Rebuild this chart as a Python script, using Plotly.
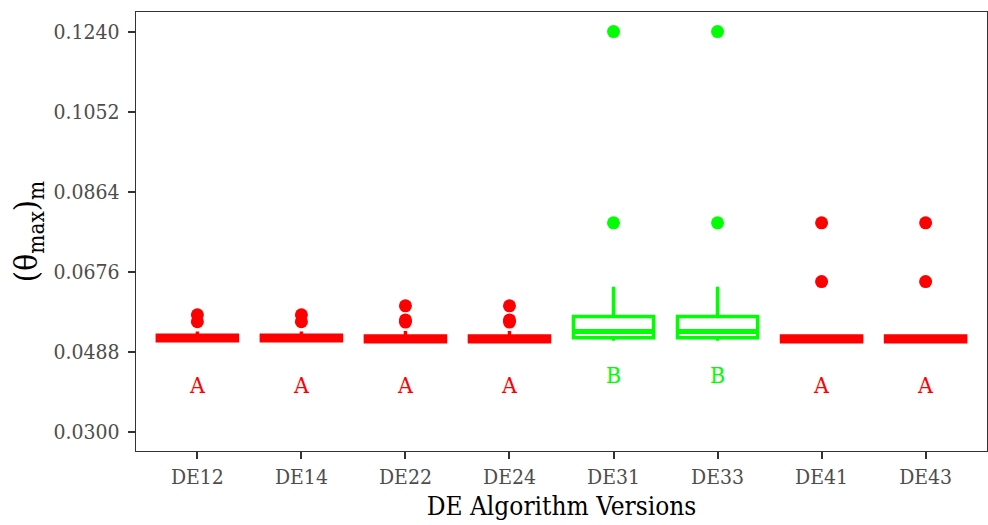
import plotly.graph_objects as go

# DE algorithm variants and their (theta_max)_m distribution summaries
versions = ["DE12", "DE14", "DE22", "DE24", "DE31", "DE33", "DE41", "DE43"]
q1 = [0.0514, 0.0514, 0.0512, 0.0512, 0.0521, 0.0521, 0.0512, 0.0512]
median = [0.0520, 0.0520, 0.0518, 0.0518, 0.0536, 0.0536, 0.0518, 0.0518]
q3 = [0.0527, 0.0527, 0.0525, 0.0525, 0.0571, 0.0571, 0.0525, 0.0525]
lower = [0.0514, 0.0514, 0.0512, 0.0512, 0.0514, 0.0514, 0.0512, 0.0512]
upper = [0.0536, 0.0536, 0.0537, 0.0537, 0.0641, 0.0641, 0.0526, 0.0526]
outliers = [
    [0.0575, 0.0559],
    [0.0575, 0.0559],
    [0.0596, 0.0563, 0.0558],
    [0.0596, 0.0563, 0.0558],
    [0.1240, 0.0791],
    [0.1240, 0.0791],
    [0.0791, 0.0653],
    [0.0791, 0.0653],
]
groups = ["A", "A", "A", "A", "B", "B", "A", "A"]
group_label_y = {"A": 0.0410, "B": 0.0434}
group_color = {"A": "#FF0000", "B": "#00FF00"}

y_ticks = [0.0300, 0.0488, 0.0676, 0.0864, 0.1052, 0.1240]

FONT = "DejaVu Serif Condensed, DejaVu Serif, serif"
BOX_W = 0.77

fig = go.Figure()

for i, name in enumerate(versions):
    col = group_color[groups[i]]
    fig.add_trace(go.Box(
        x=[i], q1=[q1[i]], median=[median[i]], q3=[q3[i]],
        lowerfence=[lower[i]], upperfence=[upper[i]],
        width=BOX_W, whiskerwidth=0,
        line=dict(color=col, width=3.5), fillcolor="rgba(255,255,255,0)",
        boxpoints=False, showlegend=False, hoverinfo="skip",
    ))
    # emphasised median bar
    fig.add_trace(go.Scatter(
        x=[i - BOX_W / 2, i + BOX_W / 2], y=[median[i], median[i]],
        mode="lines", line=dict(color=col, width=5),
        showlegend=False, hoverinfo="skip",
    ))
    fig.add_trace(go.Scatter(
        x=[i] * len(outliers[i]), y=outliers[i], mode="markers",
        marker=dict(color=col, size=13), showlegend=False, hoverinfo="skip",
    ))
    fig.add_annotation(
        x=i, y=group_label_y[groups[i]], text=groups[i], showarrow=False,
        font=dict(family=FONT, size=23, color=col),
        xanchor="center", yanchor="middle",
    )

axis_common = dict(
    showline=True, linecolor="#333333", linewidth=1.3, mirror=True,
    ticks="outside", ticklen=7, tickwidth=1.5, tickcolor="#333333",
    showgrid=False, zeroline=False,
    tickfont=dict(family=FONT, size=21, color="#4D4D4D"),
)

fig.update_layout(
    width=988, height=525,
    margin=dict(l=136, r=1, t=12, b=74),
    plot_bgcolor="white", paper_bgcolor="white",
    xaxis=dict(
        range=[-0.59, 7.59], tickmode="array",
        tickvals=list(range(len(versions))), ticktext=versions,
        title=dict(text="DE Algorithm Versions", standoff=8,
                   font=dict(family=FONT, size=26, color="black")),
        **axis_common,
    ),
    yaxis=dict(
        range=[0.02553, 0.12859], tickmode="array",
        tickvals=y_ticks, ticktext=[f"{v:.4f}" for v in y_ticks],
        ticklabelstandoff=4,
        title=dict(text="(θ<sub>max</sub>)<sub>m</sub>", standoff=6,
                   font=dict(family=FONT, size=32, color="black")),
        **axis_common,
    ),
)

fig.write_html("out.html")
